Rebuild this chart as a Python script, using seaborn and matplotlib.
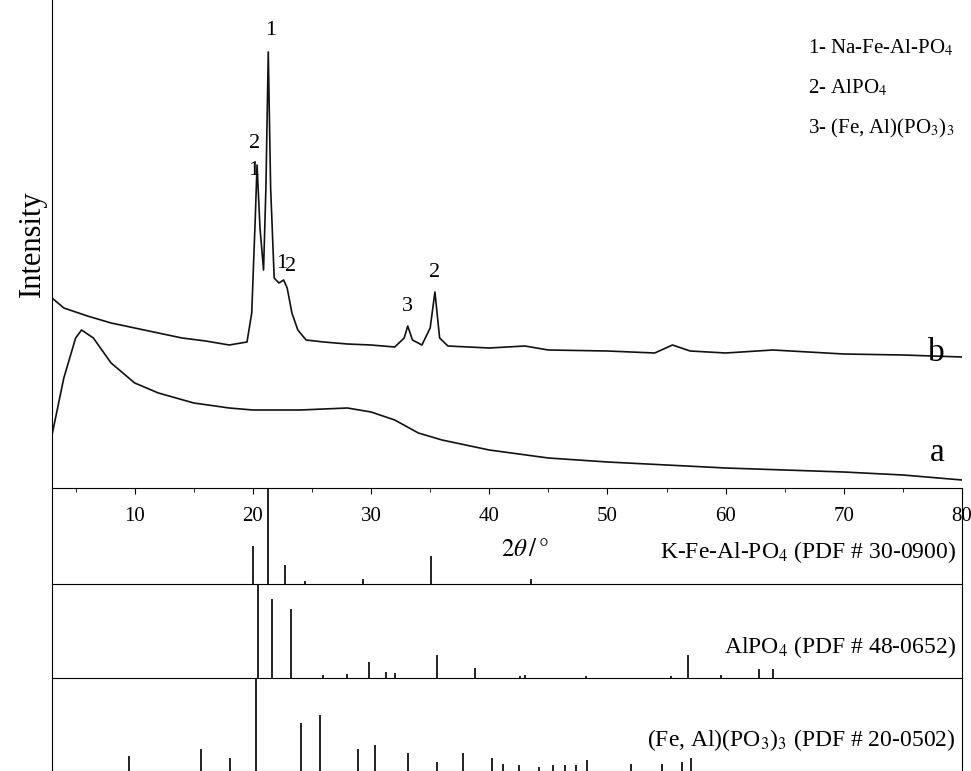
import matplotlib
matplotlib.use('Agg')
import matplotlib.pyplot as plt
import seaborn as sns
import pandas as pd

# measured patterns (2theta, intensity in arbitrary units)
b_x = [3, 4, 6, 8, 10, 12, 14, 16, 18, 19.5, 19.9, 20.2, 20.35, 20.6, 20.9, 21.1, 21.3, 21.5, 21.8, 22.2, 22.6, 22.9, 23.3, 23.8, 24.5, 26, 28, 30, 32, 32.8, 33.1, 33.5, 34.3, 35.0, 35.4, 35.8, 36.5, 40, 43, 45, 50, 54, 55.5, 57, 60, 64, 70, 75, 80]
b_y = [190, 180, 172, 165, 160, 155, 150, 147, 143, 146, 175, 270, 323, 260, 218, 300, 436, 300, 210, 205, 208, 200, 175, 158, 148, 146, 144, 143, 141, 150, 162, 148, 143, 160, 196, 150, 142, 140, 142, 138, 137, 135, 143, 137, 135, 138, 134, 133, 131]
a_x = [3, 4, 5, 5.5, 6.5, 8, 10, 12, 15, 18, 20, 24, 28, 30, 32, 34, 36, 40, 45, 50, 55, 60, 65, 70, 75, 80]
a_y = [53, 110, 150, 158, 150, 125, 105, 95, 85, 80, 78, 78, 80, 76, 68, 55, 48, 38, 30, 26, 23, 20, 18, 16, 13, 8]

# reference patterns (2theta, relative intensity)
k_pos = [20.0, 21.3, 22.7, 24.4, 29.3, 35.1, 43.5]
k_int = [0.40, 1.0, 0.20, 0.03, 0.05, 0.29, 0.05]
al_pos = [20.4, 21.6, 23.2, 25.9, 28.0, 29.8, 31.3, 32.0, 35.6, 38.8, 42.6, 43.0, 48.2, 55.4, 56.8, 59.6, 62.8, 64.0]
al_int = [1.0, 0.84, 0.73, 0.03, 0.04, 0.17, 0.06, 0.05, 0.24, 0.11, 0.02, 0.03, 0.02, 0.02, 0.24, 0.03, 0.10, 0.10]
fe_pos = [9.5, 15.6, 18.1, 20.3, 24.1, 25.7, 28.9, 30.3, 33.1, 35.6, 37.8, 40.2, 41.2, 42.5, 44.2, 45.4, 46.4, 47.3, 48.3, 52.0, 54.6, 56.3, 57.1]
fe_int = [0.16, 0.24, 0.14, 1.0, 0.52, 0.60, 0.24, 0.28, 0.19, 0.10, 0.19, 0.14, 0.08, 0.06, 0.04, 0.06, 0.06, 0.06, 0.12, 0.07, 0.08, 0.10, 0.14]

plt.rcParams['font.family'] = ['Liberation Serif', 'DejaVu Serif']
plt.rcParams['mathtext.fontset'] = 'stix'

fig = plt.figure(figsize=(9.71, 7.71), dpi=100)
H = 771
def box(top, bot):
    return [52 / 971, 1 - bot / H, (962 - 52) / 971, (bot - top) / H]

ax = fig.add_axes(box(0, 488))
df = pd.concat([pd.DataFrame({'x': b_x, 'y': b_y, 's': 'b'}),
                pd.DataFrame({'x': a_x, 'y': a_y, 's': 'a'})])
sns.lineplot(data=df, x='x', y='y', hue='s', palette=['#111111', '#111111'],
             lw=1.2, legend=False, ax=ax, sort=False)
ax.set_xlim(3, 80)
ax.set_ylim(0, 488)
ax.set_yticks([])
ax.set_xticks(range(10, 81, 10))
ax.set_xticks(range(5, 81, 10), minor=True)
ax.tick_params(axis='x', direction='out', length=4, labelsize=15, pad=10)
ax.tick_params(axis='x', which='minor', length=3)
ax.set_xlabel('')
ax.set_ylabel('Intensity', fontsize=22)
ax.text(43, -62, r'$2\theta\,/\,°$', fontsize=18, ha='center', va='center')
for s in ['top', 'right']:
    ax.spines[s].set_visible(False)
ax.spines['bottom'].set_zorder(5)

for x, y, t in [(20.1, 335, '2'), (20.1, 308, '1'), (21.5, 448, '1'), (22.4, 215, '1'),
                (23.2, 212, '2'), (33.1, 172, '3'), (35.4, 206, '2')]:
    ax.text(x, y, t, fontsize=16, ha='center', va='bottom')
ax.text(78.5, 120, 'b', fontsize=24, ha='right', va='bottom')
ax.text(78.5, 20, 'a', fontsize=24, ha='right', va='bottom')
ax.text(67, 440, r'1- Na-Fe-Al-PO$_4$', fontsize=15, va='center')
ax.text(67, 400, r'2- AlPO$_4$', fontsize=15, va='center')
ax.text(67, 360, r'3- (Fe, Al)(PO$_3$)$_3$', fontsize=15, va='center')

panels = [(488, 584, k_pos, k_int, r'K-Fe-Al-PO$_4$ (PDF # 30-0900)'),
          (584, 678, al_pos, al_int, r'AlPO$_4$ (PDF # 48-0652)'),
          (678, 771, fe_pos, fe_int, r'(Fe, Al)(PO$_3$)$_3$ (PDF # 20-0502)')]
for top, bot, pos, inten, label in panels:
    sx = fig.add_axes(box(top, bot))
    sx.vlines(pos, 0, inten, color='#111111', lw=1.3)
    sx.set_xlim(3, 80)
    sx.set_ylim(0, 1.0)
    sx.set_xticks([])
    sx.set_yticks([])
    sx.patch.set_alpha(0)
    sx.spines['top'].set_visible(False)
    sx.text(79.5, 0.33, label, fontsize=17, ha='right', va='center')
    sx.set_zorder(-1)

fig.savefig('out.png', dpi=100)
